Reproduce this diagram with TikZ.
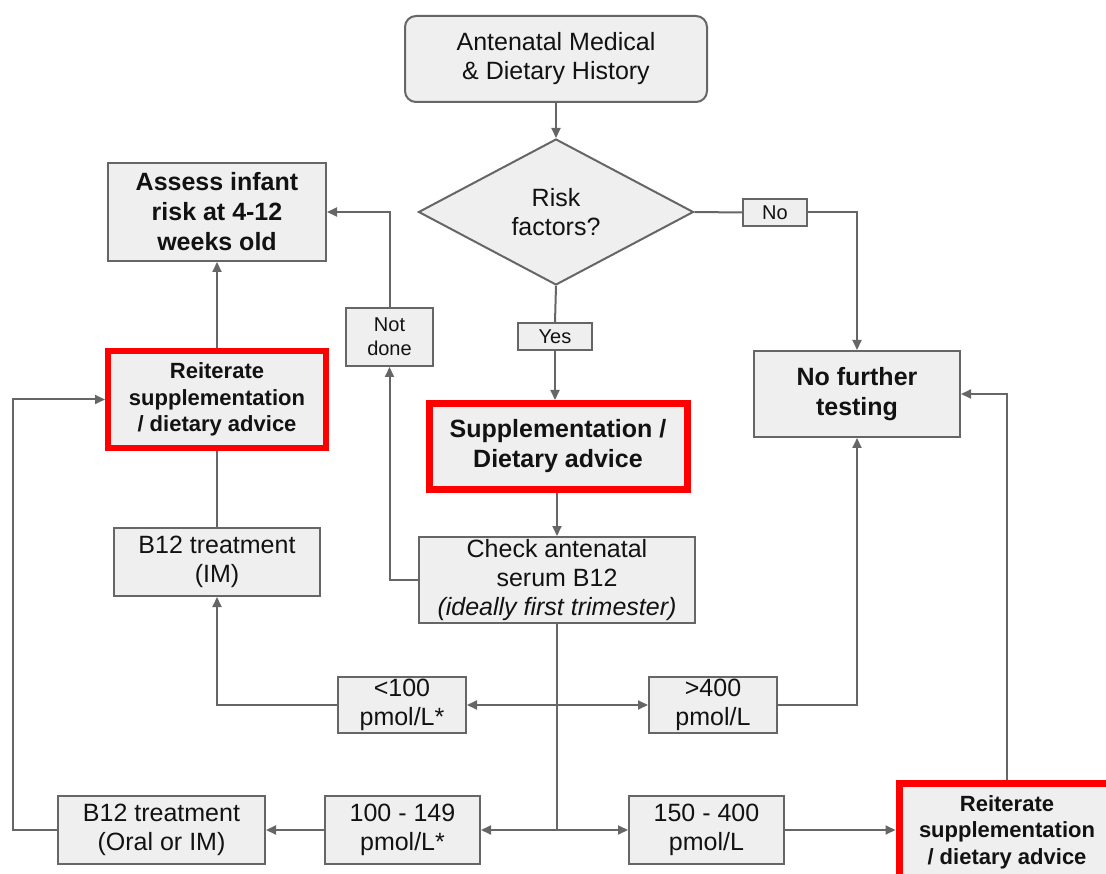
\documentclass[tikz,border=0pt]{standalone}
\usepackage{fontspec}
\setmainfont{Liberation Sans}
\usetikzlibrary{shapes.geometric,arrows.meta}
\definecolor{boxfill}{HTML}{EFEFEF}
\definecolor{edge}{HTML}{666666}
\definecolor{alert}{HTML}{FF0000}
\newcommand{\regtext}{\fontsize{25}{29}\selectfont}
\newcommand{\boldtext}{\fontsize{25}{30}\selectfont\bfseries}
\newcommand{\redtext}{\fontsize{22}{26.5}\selectfont\bfseries}
\newcommand{\labtext}{\fontsize{20}{24}\selectfont}
\begin{document}
\begin{tikzpicture}[x=1pt,y=-1pt,
  box/.style={draw=edge, fill=boxfill, line width=2pt, align=center, inner sep=0pt, text=black!93},
  redbox/.style={box, draw=alert, line width=7pt},
  lab/.style={box, font=\labtext},
  arr/.style={draw=edge, line width=2pt, -{Triangle[length=10pt,width=9pt]}},
  ln/.style={draw=edge, line width=2pt}
]
\useasboundingbox (0,0) rectangle (1106,874);
\clip (0,0) rectangle (1106,874);

\node[box, rounded corners=11pt, minimum width=302pt, minimum height=86pt, font=\regtext] (hist) at (556,59) {Antenatal Medical\\\& Dietary History};
\node[box, diamond, minimum width=275pt, minimum height=146pt, font=\regtext] (risk) at (556,212) {Risk\\factors?};
\node[lab, minimum width=64pt, minimum height=27pt] (no) at (775,212.5) {No};
\node[box, minimum width=206pt, minimum height=86pt, font=\boldtext] (nft) at (857,394) {No further\\testing};
\node[lab, minimum width=74pt, minimum height=27pt] (yes) at (555,336.5) {Yes};
\node[redbox, minimum width=258pt, minimum height=86pt, font=\boldtext] (supp) at (558,446.5) {Supplementation /\\Dietary advice};
\node[box, minimum width=276pt, minimum height=86pt, font=\regtext] (check) at (557,580) {Check antenatal\\serum B12\\\textit{(ideally first trimester)}};
\node[lab, minimum width=87pt, minimum height=58pt] (notdone) at (389.5,337) {Not\\done};
\node[box, minimum width=218pt, minimum height=98pt, font=\boldtext] (assess) at (217,212) {Assess infant\\risk at 4-12\\weeks old};
\node[redbox, line width=6pt, minimum width=218pt, minimum height=97pt, font=\redtext] (reitL) at (217,399.5) {Reiterate\\supplementation\\/ dietary advice};
\node[box, minimum width=206pt, minimum height=68pt, font=\regtext] (b12im) at (217,562) {B12 treatment\\(IM)};
\node[box, minimum width=128pt, minimum height=56pt, font=\regtext] (lt100) at (402,705) {<100\\pmol/L*};
\node[box, minimum width=128pt, minimum height=56pt, font=\regtext] (gt400) at (713,705) {>400\\pmol/L};
\node[box, minimum width=155pt, minimum height=68pt, font=\regtext] (r100) at (402.5,830) {100 - 149\\pmol/L*};
\node[box, minimum width=155pt, minimum height=68pt, font=\regtext] (r150) at (706.5,830) {150 - 400\\pmol/L};
\node[box, minimum width=207pt, minimum height=68pt, font=\regtext] (b12oral) at (161.5,830) {B12 treatment\\(Oral or IM)};
\node[redbox, line width=7pt, minimum width=216pt, minimum height=97pt, font=\redtext] (reitR) at (1007,832) {Reiterate\\supplementation\\/ dietary advice};

\coordinate (lx) at (12.5,830);
\coordinate (j1) at (check.south |- lt100.east);
\coordinate (j2) at (check.south |- r100.east);

\draw[arr] (hist.south) -- (risk.north);
\draw[ln] (risk.east) -- (no.west);
\draw[arr] (no.east) -| (nft.north);
\draw[ln] (risk.south) -- (yes.north);
\draw[arr] (yes.south) -- (yes.south |- supp.north);
\draw[arr] (supp.south -| check.north) -- (check.north);
\draw[arr] (check.west) -| (notdone.south);
\draw[arr] (notdone.north) |- (assess.east);
\draw[arr] (reitL.north) -- (assess.south);
\draw[ln] (reitL.south) -- (b12im.north);
\draw[arr] (b12oral.west) -- (lx) |- (reitL.west);
\draw[ln] (check.south) -- (j2);
\draw[arr] (j1) -- (lt100.east);
\draw[arr] (j1) -- (gt400.west);
\draw[arr] (lt100.west) -| (b12im.south);
\draw[arr] (gt400.east) -| (nft.south);
\draw[arr] (j2) -- (r100.east);
\draw[arr] (j2) -- (r150.west);
\draw[arr] (r100.west) -- (b12oral.east);
\draw[arr] (r150.east) -- (r150.east -| reitR.west);
\draw[arr] (reitR.north) |- (nft.east);
\end{tikzpicture}
\end{document}
